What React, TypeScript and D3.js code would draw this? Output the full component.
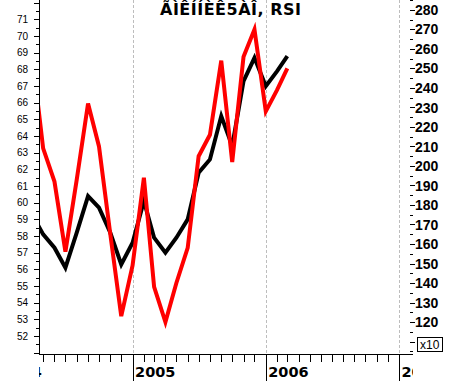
import React from "react";
import * as d3 from "d3";

const months = [
  "2004-04", "2004-05", "2004-06", "2004-07", "2004-08", "2004-09",
  "2004-10", "2004-11", "2004-12", "2005-01", "2005-02", "2005-03",
  "2005-04", "2005-05", "2005-06", "2005-07", "2005-08", "2005-09",
  "2005-10", "2005-11", "2005-12", "2006-01", "2006-02", "2006-03",
];
// black line, left axis
const rsi = [
  59.3, 58.1, 57.3, 56.1, 58.2, 60.4, 59.7, 58.2, 56.3, 57.6, 60.1, 57.9,
  57.0, 57.9, 59.0, 61.8, 62.6, 65.2, 63.4, 67.3, 68.7, 67.0, 67.9, 68.8,
];
// red line, right axis (x10)
const price = [
  257, 209, 192, 156, 193, 232, 210, 165, 123, 149, 194, 138,
  120, 140, 158, 205, 216, 254, 202, 256, 270, 228, 239, 250,
];

const years = ["2004", "2005", "2006", "2007"];
const leftLabels = [52, 53, 54, 55, 56, 57, 58, 59, 60, 61, 62, 63, 64, 65, 66, 67, 68, 69, 70, 71];
const rightLabels = [110, 120, 130, 140, 150, 160, 170, 180, 190, 200, 210, 220, 230, 240, 250, 260, 270, 280];
const title = "ÃÌÊÍÍÈÊ5ÀÎ, RSI";

const W = 453;
const H = 381;
const left = 39;
const right = 413;
const bottom = 354;

export default function App() {
  const parse = d3.timeParse("%Y-%m");
  const dates = months.map((m) => parse(m) as Date);

  const x = d3
    .scaleTime()
    .domain([new Date(2004, 0, 1), new Date(2007, 0, 1)])
    .range([-1, 399]);
  const yL = d3.scaleLinear().domain([50.92, 72.17]).range([bottom, 0]);
  const yR = d3.scaleLinear().domain([103.6, 285.1]).range([bottom, 0]);

  const lineL = d3
    .line<number>()
    .x((_, i) => x(dates[i]))
    .y((d) => yL(d));
  const lineR = d3
    .line<number>()
    .x((_, i) => x(dates[i]))
    .y((d) => yR(d));

  const monthTicks = d3.timeMonth.range(new Date(2004, 0, 1), new Date(2007, 1, 1));
  const yearDates = years.map((y) => new Date(+y, 0, 1));
  const leftMajor = d3.range(51, 73);
  const leftMinor = d3.range(51.5, 72, 1);
  const rightMinor = d3.range(105, 290, 10);

  const sans = "'Liberation Sans', Arial, sans-serif";
  const wide = "'DejaVu Sans', Verdana, sans-serif";

  return (
    <svg width={W} height={H} style={{ position: "absolute", left: 0, top: 0, background: "#fff" }}>
      <defs>
        <clipPath id="plot">
          <rect x={left} y={0} width={right - left} height={bottom} />
        </clipPath>
        <clipPath id="xlab">
          <rect x={left} y={bottom} width={right - left} height={H - bottom} />
        </clipPath>
        <clipPath id="hidden">
          <rect x={443} y={0} width={10} height={H} />
        </clipPath>
      </defs>

      {/* year grid lines */}
      {yearDates.slice(1).map((d, i) => (
        <line key={i} x1={Math.round(x(d)) + 0.5} x2={Math.round(x(d)) + 0.5} y1={0} y2={bottom}
          stroke="#bdbdbd" strokeDasharray="3 2" />
      ))}

      <g clipPath="url(#plot)" fill="none" strokeWidth={4}>
        <path d={lineL(rsi) ?? ""} stroke="#000" />
        <path d={lineR(price) ?? ""} stroke="#ff0000" />
      </g>

      {/* left axis */}
      <line x1={left + 0.5} x2={left + 0.5} y1={0} y2={bottom} stroke="#000" />
      {leftMajor.map((v) => (
        <line key={"lm" + v} x1={left - 5} x2={left} y1={Math.round(yL(v)) + 0.5} y2={Math.round(yL(v)) + 0.5} stroke="#000" />
      ))}
      {leftMinor.map((v) => (
        <line key={"ln" + v} x1={left - 3} x2={left} y1={Math.round(yL(v)) + 0.5} y2={Math.round(yL(v)) + 0.5} stroke="#000" />
      ))}
      {leftLabels.map((v) => (
        <text key={"ll" + v} x={28} y={yL(v)} dy="0.35em" textAnchor="end" fontFamily={sans} fontSize={10}>
          {v}
        </text>
      ))}

      {/* right axis */}
      {rightLabels.map((v, i) => (
        <g key={"r" + v}>
          <line x1={410} x2={415} y1={Math.round(yR(v)) + 0.5} y2={Math.round(yR(v)) + 0.5} stroke="#000" />
          <text x={415} y={yR(v)} dy="0.36em" fontFamily={sans} fontWeight="bold" fontSize={14}
            clipPath={i === 0 ? "url(#hidden)" : undefined}>
            {v}
          </text>
        </g>
      ))}
      {rightMinor.map((v) => (
        <line key={"rn" + v} x1={410} x2={413} y1={Math.round(yR(v)) + 0.5} y2={Math.round(yR(v)) + 0.5} stroke="#000" />
      ))}

      {/* bottom axis */}
      <line x1={left} x2={right} y1={bottom + 0.5} y2={bottom + 0.5} stroke="#000" />
      <g clipPath="url(#xlab)">
        {monthTicks.map((d, i) => (
          <line key={"mt" + i} x1={Math.round(x(d)) + 0.5} x2={Math.round(x(d)) + 0.5} y1={bottom} y2={bottom + 8} stroke="#000" />
        ))}
        {yearDates.map((d, i) => (
          <g key={"yt" + i}>
            <line x1={Math.round(x(d)) + 0.5} x2={Math.round(x(d)) + 0.5} y1={bottom} y2={H} stroke="#000" />
            <text x={x(d) + 2.5} y={377} fontFamily={wide} fontWeight="bold" fontSize={14.5}>
              {years[i]}
            </text>
          </g>
        ))}
      </g>

      {/* multiplier box */}
      <rect x={417.5} y={337.5} width={25} height={14} fill="#fff" stroke="#000" />
      <text x={420} y={349} fontFamily={sans} fontSize={12}>x10</text>

      <text x={160} y={15} fontFamily={wide} fontWeight="bold" fontSize={16} letterSpacing={0.5}>
        {title}
      </text>
    </svg>
  );
}
